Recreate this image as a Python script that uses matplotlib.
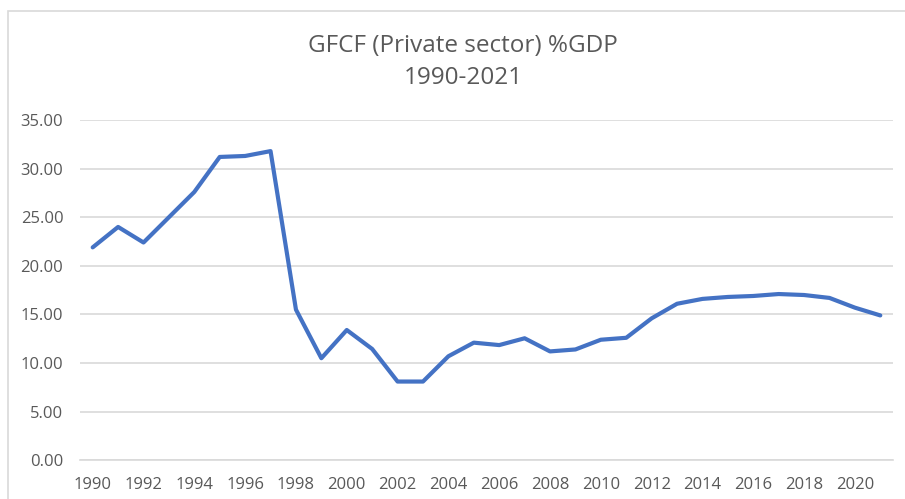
import matplotlib
matplotlib.use("Agg")
import matplotlib.pyplot as plt
from matplotlib.patches import Rectangle

years = list(range(1990, 2022))
values = [21.9, 24.0, 22.4, 25.0, 27.6, 31.2, 31.3, 31.8, 15.5, 10.5,
          13.4, 11.45, 8.1, 8.1, 10.7, 12.1, 11.85, 12.55, 11.2, 11.4,
          12.4, 12.6, 14.6, 16.1, 16.6, 16.8, 16.9, 17.1, 17.0, 16.7,
          15.7, 14.9]
yticks = [0, 5, 10, 15, 20, 25, 30, 35]
xtick_years = list(range(1990, 2021, 2))
title = "GFCF (Private sector) %GDP\n1990-2021"

plt.rcParams['font.family'] = ['Open Sans', 'DejaVu Sans']
W, H = 905, 499
fig = plt.figure(figsize=(W/100, H/100), dpi=100)
fig.patch.set_facecolor('white')

# chart border
fig.patches.append(Rectangle((8/W, -0.1), 1.2, (H-11)/H + 0.1, transform=fig.transFigure,
                             fill=False, edgecolor='#d9d9d9', linewidth=1.2))

ax = fig.add_axes([80/W, 38.7/H, (893-80)/W, 340.3/H])
ax.plot(years, values, color='#4472C4', linewidth=3.0, solid_joinstyle='round',
        solid_capstyle='round')
ax.set_xlim(1989.5, 2021.5)
ax.set_ylim(0, 35)
ax.set_yticks(yticks)
ax.set_yticklabels([f"{v:.2f}" for v in yticks])
ax.set_xticks(xtick_years)
ax.set_xticklabels([str(y) for y in xtick_years])
ax.grid(axis='y', color='#d9d9d9', linewidth=1.2)
ax.set_axisbelow(True)
for s in ['top', 'right', 'left']:
    ax.spines[s].set_visible(False)
ax.spines['bottom'].set_color('#d9d9d9')
ax.spines['bottom'].set_linewidth(1.2)
ax.tick_params(axis='both', length=0, labelsize=12, labelcolor='#595959')
ax.tick_params(axis='y', pad=12)
ax.tick_params(axis='x', pad=12)

fig.text(463/W, 1 - 62/H, title, ha='center', va='center', fontsize=17.5,
         color='#595959', linespacing=1.45)

fig.savefig('out.png', dpi=100, facecolor='white')
